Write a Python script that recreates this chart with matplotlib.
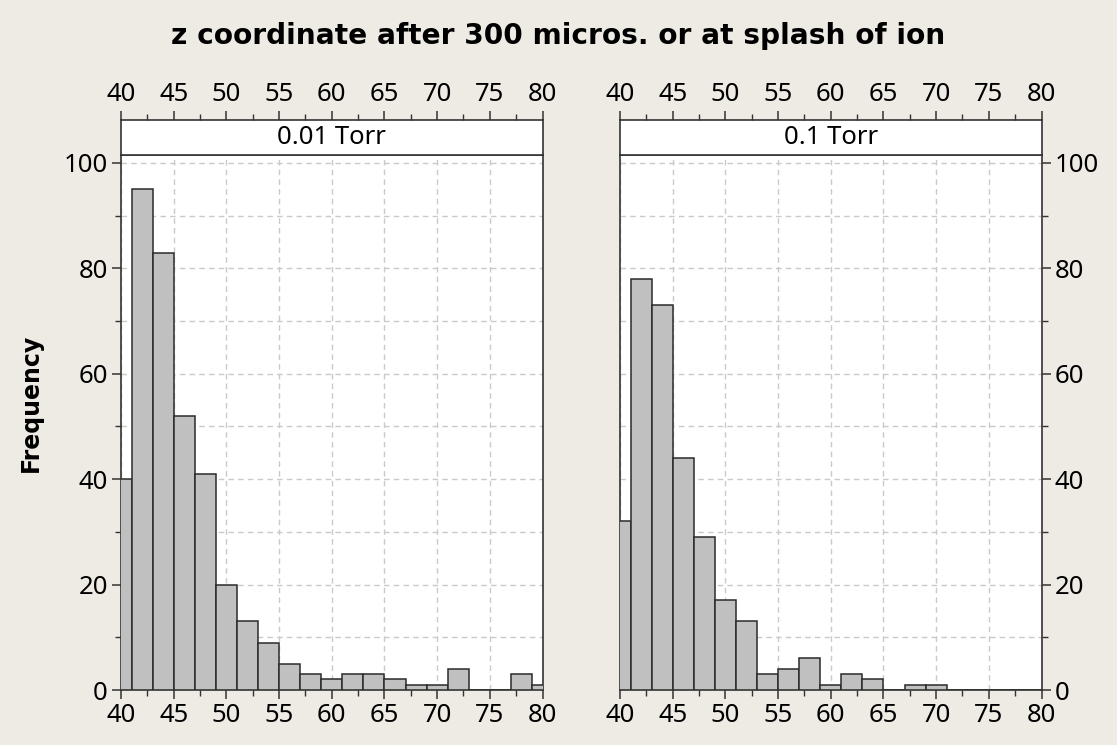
import numpy as np
import matplotlib.pyplot as plt
from matplotlib.ticker import MultipleLocator

# histogram bin edges (width 2, clipped to 40..80 by the axes)
edges = np.arange(39, 81, 2)
freq_001 = [40, 95, 83, 52, 41, 20, 13, 9, 5, 3, 2, 3, 3, 2, 1, 1, 4, 0, 0, 3, 1]
freq_01 = [32, 78, 73, 44, 29, 17, 13, 3, 4, 6, 1, 3, 2, 0, 1, 1, 0, 0, 0, 0, 0]
panels = ["0.01 Torr", "0.1 Torr"]
title = "z coordinate after 300 micros. or at splash of ion"

bg = "#EEEAE4"
plt.rcParams['font.family'] = ['Noto Sans', 'DejaVu Sans']

fig = plt.figure(figsize=(11.17, 7.45), dpi=100, facecolor=bg)
fig.text(0.5, 0.952, title, ha='center', va='center', fontsize=20.2,
         fontweight='bold', family='DejaVu Sans')
fig.text(0.028, 0.459, "Frequency", ha='center', va='center', rotation=90,
         fontsize=17, fontweight='bold', family='DejaVu Sans')

W, H = 1117, 745
lefts = [121 / W, 620 / W]
w = 421.5 / W
bottom = 1 - 690 / H
h = (690 - 155) / H
strip_h = 35 / H
tick_col = '#333333'
lsize = 18.5

for i, (lab, vals) in enumerate(zip(panels, [freq_001, freq_01])):
    ax = fig.add_axes([lefts[i], bottom, w, h])
    ax.bar(edges, vals, width=2, align='edge', color='#C0C0C0',
           edgecolor='#2b2b2b', linewidth=1.1, zorder=3)
    ax.set_xlim(40, 80)
    ax.set_ylim(0, 101.5)
    ax.xaxis.set_major_locator(MultipleLocator(5))
    ax.xaxis.set_minor_locator(MultipleLocator(2.5))
    ax.yaxis.set_major_locator(MultipleLocator(20))
    ax.yaxis.set_minor_locator(MultipleLocator(10))
    ax.grid(which='major', axis='x', color='#CACACA', ls=(0, (4, 3)), lw=1, zorder=0)
    ax.grid(which='both', axis='y', color='#CACACA', ls=(0, (4, 3)), lw=1, zorder=0)
    ax.tick_params(which='major', length=6.5, width=1.1, labelsize=lsize,
                   color=tick_col, pad=3)
    ax.tick_params(which='minor', length=4.3, width=1, color=tick_col)
    if i == 1:
        ax.yaxis.tick_right()
    for s in ax.spines.values():
        s.set_color(tick_col)
        s.set_linewidth(1.2)

    # strip with top axis
    sx = fig.add_axes([lefts[i], bottom + h, w, strip_h])
    sx.set_xlim(40, 80)
    sx.set_ylim(0, 1)
    sx.set_facecolor('white')
    sx.text(0.5, 0.5, lab, ha='center', va='center', fontsize=lsize,
            transform=sx.transAxes)
    sx.xaxis.tick_top()
    sx.xaxis.set_major_locator(MultipleLocator(5))
    sx.xaxis.set_minor_locator(MultipleLocator(2.5))
    sx.set_yticks([])
    sx.tick_params(which='major', length=6.5, width=1.1, labelsize=lsize,
                   color=tick_col, pad=3)
    sx.tick_params(which='minor', length=4.3, width=1, color=tick_col)
    for s in sx.spines.values():
        s.set_color(tick_col)
        s.set_linewidth(1.2)

fig.savefig("out.png", dpi=100, facecolor=bg)
